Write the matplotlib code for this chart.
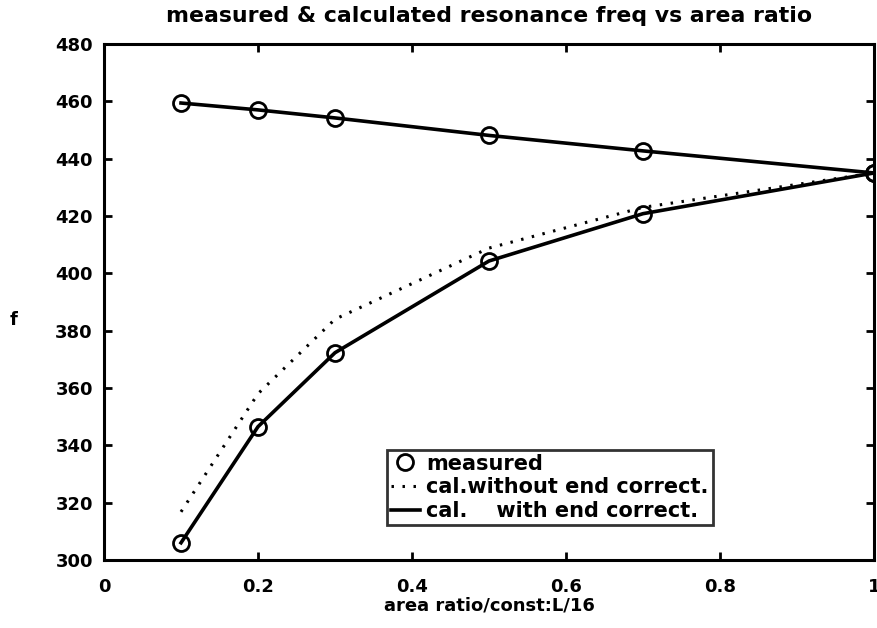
import matplotlib
matplotlib.use('Agg')
import matplotlib.pyplot as plt

# data
ratio = [0.1, 0.2, 0.3, 0.5, 0.7, 1.0]
meas_upper = [459.4, 457.0, 454.2, 448.1, 442.7, 435.0]
meas_lower = [306.0, 346.5, 372.3, 404.3, 420.8, 435.0]
calc_no_end = [316.8, 358.0, 384.0, 408.8, 423.0, 435.0]
calc_end_upper = [459.4, 457.0, 454.2, 448.1, 442.7, 435.0]
calc_end_lower = [306.0, 346.5, 372.3, 404.3, 420.8, 435.0]

plt.rcParams['font.family'] = ['DejaVu Sans']
plt.rcParams['font.weight'] = 'bold'

fig = plt.figure(figsize=(8.77, 6.28), dpi=100)
ax = fig.add_axes([0.1186, 0.1083, 0.8780, 0.8217])

ax.plot(ratio, meas_upper, 'o', mfc='none', mec='black', ms=11.5, mew=2, label='measured')
ax.plot(ratio, calc_no_end, color='black', lw=2.2, linestyle=(0, (0.8, 2.8)),
        label='cal.without end correct.')
ax.plot(ratio, calc_end_lower, '-', color='black', lw=2.6, label='cal.    with end correct.')
ax.plot(ratio, meas_lower, 'o', mfc='none', mec='black', ms=11.5, mew=2)
ax.plot(ratio, calc_end_upper, '-', color='black', lw=2.6)

ax.set_xlim(0, 1)
ax.set_ylim(300, 480)
ax.set_xticks([0, 0.2, 0.4, 0.6, 0.8, 1])
ax.set_xticklabels(['0', '0.2', '0.4', '0.6', '0.8', '1'])
ax.set_yticks(range(300, 481, 20))
ax.tick_params(direction='in', top=True, right=True, length=6, width=2,
               labelsize=13)
ax.tick_params(axis='x', pad=13)
ax.tick_params(axis='y', pad=8)
for sp in ax.spines.values():
    sp.set_linewidth(2.2)

ax.set_title('measured & calculated resonance freq vs area ratio',
             fontsize=15.8, fontweight='bold', pad=16)
ax.set_xlabel('area ratio/const:L/16', fontsize=13, fontweight='bold', labelpad=0)
ax.set_ylabel('f', fontsize=13, fontweight='bold', rotation=0, va='center')
ax.yaxis.set_label_coords(-0.117, 0.465)

leg = ax.legend(loc='lower left', bbox_to_anchor=(0.367, 0.067), frameon=True,
                fancybox=False, edgecolor='black', fontsize=15,
                handlelength=1.4, handletextpad=0.3, borderpad=0.2,
                labelspacing=0.18, borderaxespad=0)
leg.get_frame().set_linewidth(2)

fig.savefig('out.png', dpi=100)
